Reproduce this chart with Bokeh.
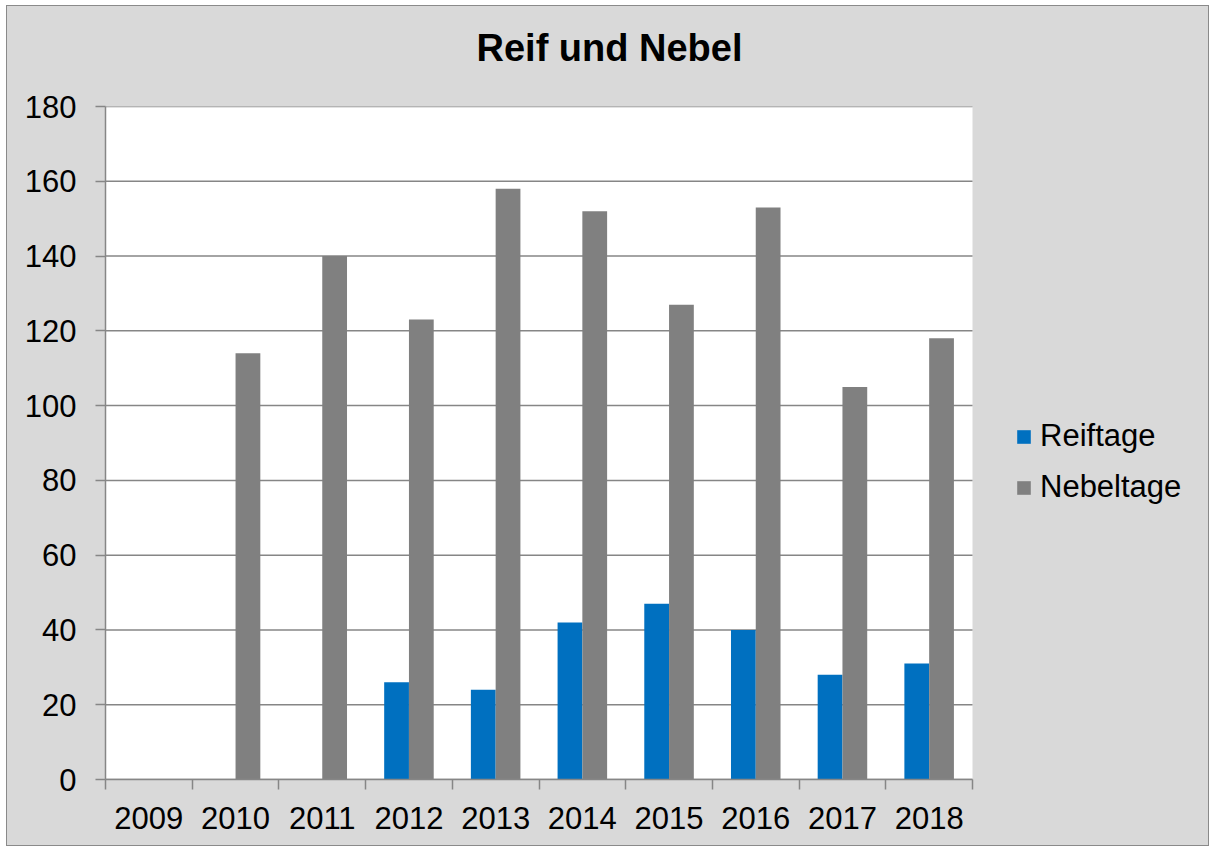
from bokeh.plotting import figure
from bokeh.models import ColumnDataSource, Range1d, FixedTicker, Legend, LegendItem, Title
from bokeh.transform import dodge
from bokeh.embed import file_html
from bokeh.resources import INLINE

nan = float("nan")
years = ["2009", "2010", "2011", "2012", "2013", "2014", "2015", "2016", "2017", "2018"]
reiftage = [nan, nan, nan, 26, 24, 42, 47, 40, 28, 31]
nebeltage = [nan, 114, 140, 123, 158, 152, 127, 153, 105, 118]
y_ticks = [0, 20, 40, 60, 80, 100, 120, 140, 160, 180]
title_text = "Reif und Nebel"
series_names = ["Reiftage", "Nebeltage"]

n = len(years)
pos = [i + 0.5 for i in range(n)]
src = ColumnDataSource(dict(x=pos, reif=reiftage, nebel=nebeltage))

FONT = "Liberation Sans"
GRID = "#868686"
BG = "#d9d9d9"

W, H = 1203, 841
LEFT, TOP, BOTTOM = 98, 100, 68
PLOT_W = 867                     # width of the white plotting area in px
frame_w = W - LEFT
x_end = n * frame_w / PLOT_W      # extend range so legend fits inside frame

p = figure(width=W, height=H, output_backend="svg", toolbar_location=None,
           x_range=Range1d(0, x_end), y_range=Range1d(0, y_ticks[-1]),
           min_border_left=LEFT, min_border_right=0, min_border_top=TOP, min_border_bottom=BOTTOM,
           background_fill_color=BG, border_fill_color=BG,
           styles={"border": "1px solid #8a8a8a", "margin-left": "6px", "margin-top": "5px",
                   "background-color": BG})
p.outline_line_color = None

# white plotting area and gridlines
p.quad(left=[0], right=[n], bottom=[y_ticks[0]], top=[y_ticks[-1]],
       fill_color="white", line_color=None, level="image")
p.segment(x0=[0] * len(y_ticks), x1=[n] * len(y_ticks), y0=y_ticks, y1=y_ticks,
          line_color=GRID, line_width=1.5, level="underlay")

bw = 1 / 3.5
r1 = p.vbar(x=dodge("x", -bw / 2, range=p.x_range), top="reif", width=bw, source=src,
            fill_color="#0070C0", line_color=None)
r2 = p.vbar(x=dodge("x", bw / 2, range=p.x_range), top="nebel", width=bw, source=src,
            fill_color="#808080", line_color=None)

# spacer between frame and title (pushes the title upward)
p.add_layout(Title(text=" ", text_font_size="2px", standoff=29), "above")

# title
p.title.text = title_text
p.title.text_font = FONT
p.title.text_font_size = "38px"
p.title.text_font_style = "bold"
p.title.text_color = "black"
p.title.align = "left"
p.title.offset = 371
p.title.standoff = 10

# y axis
ya = p.yaxis[0]
ya.ticker = FixedTicker(ticks=y_ticks)
ya.axis_line_color = GRID
ya.axis_line_width = 1.5
ya.major_tick_line_color = GRID
ya.major_tick_line_width = 1.5
ya.major_tick_out = 10
ya.major_tick_in = 0
ya.minor_tick_line_color = None
ya.major_label_text_font = FONT
ya.major_label_text_font_size = "31px"
ya.major_label_text_color = "black"
ya.major_label_standoff = 19

# x axis
xa = p.xaxis[0]
xa.bounds = (0, n)
xa.ticker = FixedTicker(ticks=pos, minor_ticks=list(range(n + 1)))
xa.major_label_overrides = {pv: y for pv, y in zip(pos, years)}
xa.axis_line_color = GRID
xa.axis_line_width = 1.5
xa.major_tick_line_color = None
xa.major_tick_out = 0
xa.major_tick_in = 0
xa.minor_tick_line_color = GRID
xa.minor_tick_line_width = 1.5
xa.minor_tick_out = 10
xa.minor_tick_in = 0
xa.major_label_text_font = FONT
xa.major_label_text_font_size = "31px"
xa.major_label_text_color = "black"
xa.major_label_standoff = 17

p.xgrid.grid_line_color = None
p.ygrid.grid_line_color = None

legend = Legend(items=[LegendItem(label=series_names[0], renderers=[r1]),
                       LegendItem(label=series_names[1], renderers=[r2])],
                location=(910, 274), orientation="vertical",
                background_fill_alpha=0, border_line_color=None,
                padding=0, margin=0, spacing=15,
                glyph_width=17, glyph_height=17, label_standoff=8,
                label_text_font=FONT, label_text_font_size="31px", label_text_color="black")
p.add_layout(legend, "center")

open("out.html", "w").write(file_html(p, INLINE))
